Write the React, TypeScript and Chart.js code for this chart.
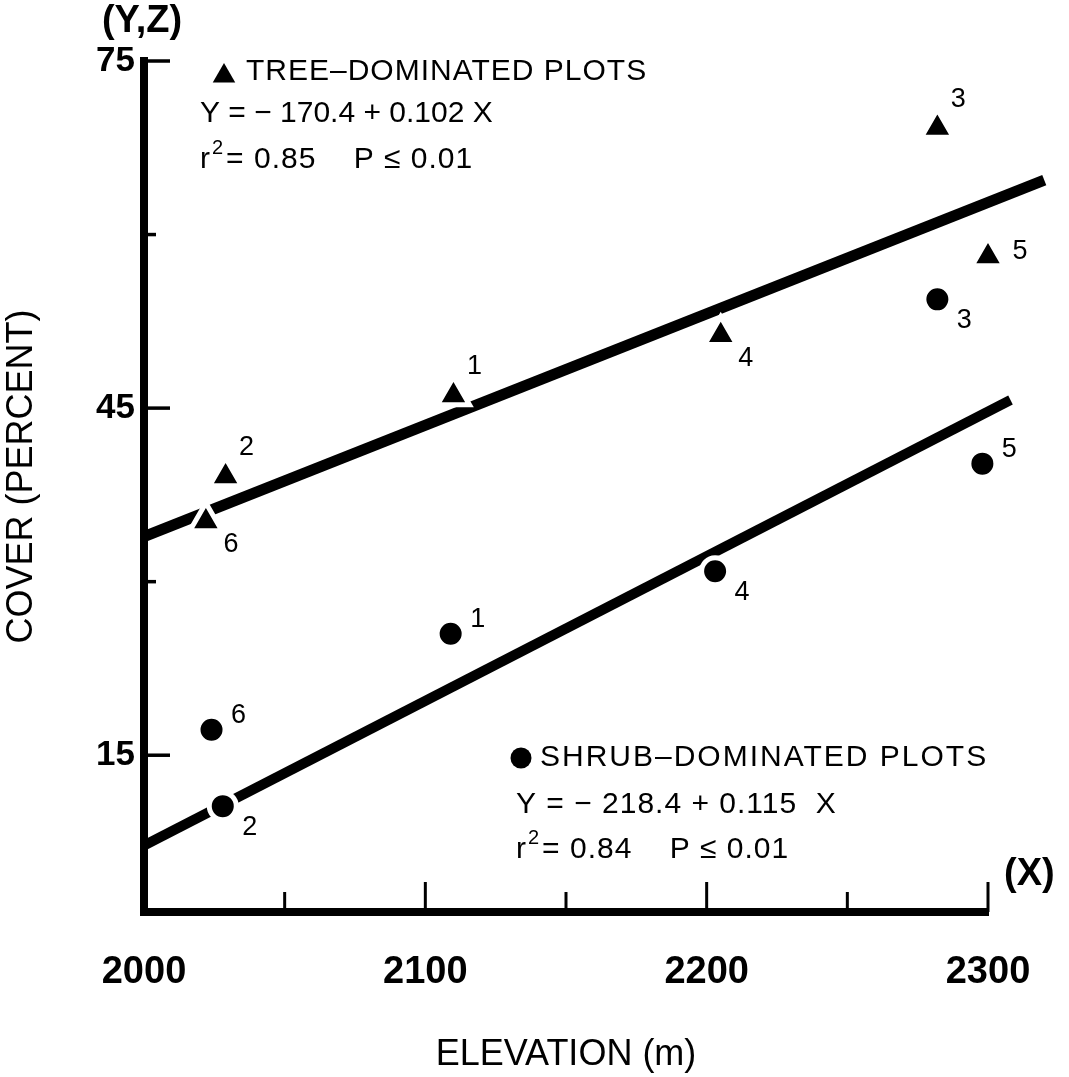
import React, { useEffect, useRef } from 'react';
import { Chart, registerables } from 'chart.js';

Chart.register(...registerables);

const FONT = '"Liberation Sans", Arial, Helvetica, sans-serif';

// Plot numbers shown beside each marker
const plotIds = ['1', '2', '3', '4', '5', '6'];

// Tree-dominated plots: elevation (m) and cover (%)
const treeElevation = [2110, 2029, 2282, 2205, 2300, 2022];
const treeCover = [46.1, 39.1, 69.2, 51.3, 58.1, 35.2];

// Shrub-dominated plots: elevation (m) and cover (%)
const shrubElevation = [2109, 2028, 2282, 2203, 2298, 2024];
const shrubCover = [25.5, 10.6, 54.4, 30.9, 40.2, 17.2];

// Fitted regression lines (end points)
const treeFitX = [2000, 2320];
const treeFitY = [33.9, 64.7];
const shrubFitX = [2000, 2308];
const shrubFitY = [7.2, 45.7];

// Axis ticks
const xTickValues = [2000, 2050, 2100, 2150, 2200, 2250, 2300];
const xTickLabels = ['2000', '', '2100', '', '2200', '', '2300'];
const yTickValues = [15, 30, 45, 60, 75];
const yTickLabels = ['15', '', '45', '', '75'];

// Which side of its marker each plot number sits on
const treeLabelSide = ['ne', 'ne', 'ne', 'se', 'e', 'se'];
const shrubLabelSide = ['ne', 'se', 'se', 'se', 'ne', 'ne'];

const treeLabelOffset: Record<string, [number, number]> = {
  ne: [21, -29],
  se: [25, 23],
  e: [32, -5],
};
const shrubLabelOffset: Record<string, [number, number]> = {
  ne: [27, -14],
  se: [27, 21],
};

const toPoints = (xs: number[], ys: number[]) => xs.map((x, i) => ({ x, y: ys[i] }));

// Tick marks drawn on the inside of both axes
const inwardTicks = {
  id: 'inwardTicks',
  afterDatasetsDraw(chart: any) {
    const { ctx, chartArea, scales } = chart;
    const x = scales.x;
    const y = scales.y;
    ctx.save();
    ctx.strokeStyle = '#000';
    ctx.lineCap = 'butt';
    y.ticks.forEach((t: any, i: number) => {
      const py = y.getPixelForValue(t.value);
      const major = yTickLabels[i] !== '';
      ctx.lineWidth = 3.5;
      ctx.beginPath();
      ctx.moveTo(chartArea.left, py);
      ctx.lineTo(chartArea.left + (major ? 26 : 12), py);
      ctx.stroke();
    });
    x.ticks.forEach((t: any, i: number) => {
      if (t.value === x.min) return;
      const px = x.getPixelForValue(t.value);
      const major = xTickLabels[i] !== '';
      ctx.lineWidth = 3;
      ctx.beginPath();
      ctx.moveTo(px, chartArea.bottom);
      ctx.lineTo(px, chartArea.bottom - (major ? 30 : 20));
      ctx.stroke();
    });
    ctx.restore();
  },
};

// Plot numbers next to the markers
const plotNumbers = {
  id: 'plotNumbers',
  afterDatasetsDraw(chart: any) {
    const { ctx } = chart;
    ctx.save();
    ctx.fillStyle = '#000';
    ctx.font = `27px ${FONT}`;
    ctx.textAlign = 'center';
    ctx.textBaseline = 'middle';
    const put = (dsIndex: number, sides: string[], offsets: Record<string, [number, number]>) => {
      const meta = chart.getDatasetMeta(dsIndex);
      meta.data.forEach((el: any, i: number) => {
        const [dx, dy] = offsets[sides[i]];
        ctx.fillText(plotIds[i], el.x + dx, el.y + dy);
      });
    };
    put(2, treeLabelSide, treeLabelOffset);
    put(3, shrubLabelSide, shrubLabelOffset);
    ctx.restore();
  },
};

function drawR2(ctx: CanvasRenderingContext2D, x: number, y: number, rest: string) {
  ctx.font = `30px ${FONT}`;
  ctx.fillText('r', x, y);
  const wr = ctx.measureText('r').width;
  ctx.font = `20px ${FONT}`;
  ctx.fillText('2', x + wr + 1, y - 12);
  const w2 = ctx.measureText('2').width;
  ctx.font = `30px ${FONT}`;
  ctx.fillText(rest, x + wr + w2 + 3, y);
}

// Key and regression statistics
const notes = {
  id: 'notes',
  afterDraw(chart: any) {
    const { ctx } = chart;
    ctx.save();
    ctx.fillStyle = '#000';
    ctx.textBaseline = 'middle';
    ctx.letterSpacing = '0px';

    ctx.textAlign = 'center';
    ctx.font = `bold 38px ${FONT}`;
    ctx.fillText('(Y,Z)', 142, 22);
    ctx.textAlign = 'left';
    ctx.fillText('(X)', 1004, 875);

    // tree key
    const tx = 224;
    const ty = 76;
    const r = 13;
    ctx.beginPath();
    ctx.moveTo(tx, ty - r);
    ctx.lineTo(tx + r * Math.sin((2 * Math.PI) / 3), ty - r * Math.cos((2 * Math.PI) / 3));
    ctx.lineTo(tx + r * Math.sin((4 * Math.PI) / 3), ty - r * Math.cos((4 * Math.PI) / 3));
    ctx.closePath();
    ctx.fill();

    ctx.font = `30px ${FONT}`;
    ctx.letterSpacing = '1px';
    ctx.fillText('TREE–DOMINATED PLOTS', 246, 72);
    ctx.letterSpacing = '0px';
    ctx.fillText('Y = − 170.4 + 0.102 X', 200, 114);
    ctx.letterSpacing = '1px';
    drawR2(ctx, 200, 160, '= 0.85    P ≤ 0.01');

    // shrub key
    ctx.beginPath();
    ctx.arc(521, 758, 10.5, 0, Math.PI * 2);
    ctx.fill();
    ctx.font = `30px ${FONT}`;
    ctx.letterSpacing = '2px';
    ctx.fillText('SHRUB–DOMINATED PLOTS', 540, 758);
    ctx.letterSpacing = '1px';
    ctx.fillText('Y = − 218.4 + 0.115  X', 516, 805);
    drawR2(ctx, 516, 850, '= 0.84    P ≤ 0.01');
    ctx.restore();
  },
};

export default function App() {
  const ref = useRef<HTMLCanvasElement>(null);

  useEffect(() => {
    const canvas = ref.current;
    if (!canvas) return;
    const chart = new Chart(canvas, {
      type: 'scatter',
      data: {
        datasets: [
          {
            type: 'line',
            label: 'Tree fit',
            data: toPoints(treeFitX, treeFitY),
            borderColor: '#000',
            borderWidth: 11,
            borderCapStyle: 'butt',
            pointRadius: 0,
            clip: false,
            order: 2,
          },
          {
            type: 'line',
            label: 'Shrub fit',
            data: toPoints(shrubFitX, shrubFitY),
            borderColor: '#000',
            borderWidth: 10,
            borderCapStyle: 'butt',
            pointRadius: 0,
            clip: false,
            order: 2,
          },
          {
            type: 'scatter',
            label: 'Tree-dominated plots',
            data: toPoints(treeElevation, treeCover),
            pointStyle: 'triangle',
            pointRadius: 18.5,
            pointBackgroundColor: '#000',
            pointBorderColor: '#fff',
            pointBorderWidth: 5,
            clip: false,
            order: 1,
          },
          {
            type: 'scatter',
            label: 'Shrub-dominated plots',
            data: toPoints(shrubElevation, shrubCover),
            pointStyle: 'circle',
            pointRadius: 13.5,
            pointBackgroundColor: '#000',
            pointBorderColor: '#fff',
            pointBorderWidth: 5,
            clip: false,
            order: 1,
          },
        ],
      } as any,
      options: {
        responsive: false,
        animation: false,
        devicePixelRatio: 1,
        layout: { padding: { top: 61, right: 81, left: 0, bottom: 0 } },
        plugins: { legend: { display: false }, tooltip: { enabled: false } },
        scales: {
          x: {
            type: 'linear',
            min: 2000,
            max: 2300,
            afterFit: (s: any) => {
              s.height = 165;
            },
            afterBuildTicks: (s: any) => {
              s.ticks = xTickValues.map((v) => ({ value: v }));
            },
            grid: { display: false, drawTicks: false },
            border: { display: true, width: 8, color: '#000' },
            ticks: {
              callback: (_v: any, i: number) => xTickLabels[i],
              color: '#000',
              font: { family: FONT, size: 38, weight: 'bold' },
              padding: 38,
              maxRotation: 0,
              autoSkip: false,
            },
            title: {
              display: true,
              text: 'ELEVATION (m)',
              color: '#000',
              font: { family: FONT, size: 36 },
              padding: { bottom: 0, top: 0 },
            },
          },
          y: {
            type: 'linear',
            min: 1.45,
            max: 75,
            afterFit: (s: any) => {
              s.width = 144;
            },
            afterBuildTicks: (s: any) => {
              s.ticks = yTickValues.map((v) => ({ value: v }));
            },
            grid: { display: false, drawTicks: false },
            border: { display: true, width: 8, color: '#000' },
            ticks: {
              callback: (_v: any, i: number) => yTickLabels[i],
              color: '#000',
              font: { family: FONT, size: 35, weight: 'bold' },
              padding: 9,
              autoSkip: false,
            },
            title: {
              display: true,
              text: '  COVER (PERCENT)',
              color: '#000',
              font: { family: FONT, size: 36 },
              padding: { top: 0, bottom: 0 },
            },
          },
        },
      } as any,
      plugins: [inwardTicks, plotNumbers, notes],
    });
    return () => chart.destroy();
  }, []);

  return (
    <div style={{ position: 'fixed', left: 0, top: 0, width: 1069, height: 1077, background: '#fff' }}>
      <canvas ref={ref} width={1069} height={1077} style={{ display: 'block', width: 1069, height: 1077 }} />
    </div>
  );
}
